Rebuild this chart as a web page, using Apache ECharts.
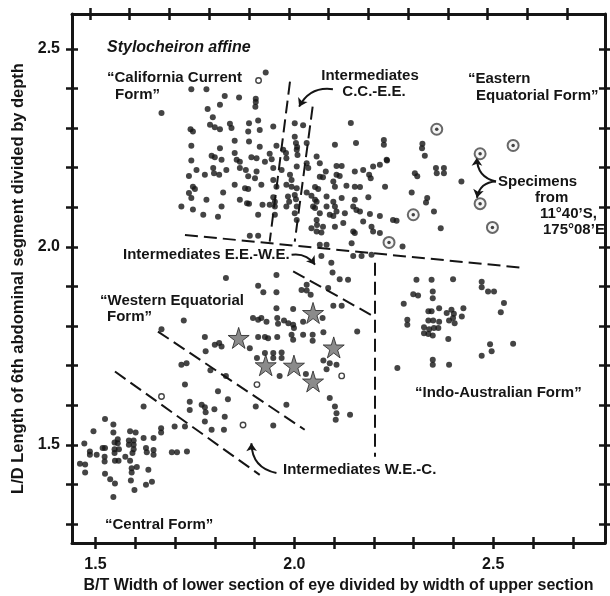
<!DOCTYPE html>
<html>
<head>
<meta charset="utf-8">
<script src="https://cdn.jsdelivr.net/npm/echarts@6/dist/echarts.min.js"></script>
<style>
html, body { margin: 0; background: #fff; }
#chart { width: 610px; height: 596px; }
</style>
</head>
<body>
<div id="chart"></div>
<script>
// tick values
const xTicks = [1.5, 1.6, 1.7, 1.8, 1.9, 2.0, 2.1, 2.2, 2.3, 2.4, 2.5, 2.6, 2.7];
const yTicks = [1.3, 1.4, 1.5, 1.6, 1.7, 1.8, 1.9, 2.0, 2.1, 2.2, 2.3, 2.4, 2.5];
const xLabels = [1.5, 2.0, 2.5];
const yLabels = [1.5, 2.0, 2.5];

// "California Current Form" + C.C.-E.E. intermediates
const ccForm = [
  [1.928,2.440],[1.741,2.398],[1.779,2.398],[1.825,2.381],[1.861,2.377],[1.903,2.374],[1.903,2.366],[1.813,2.359],
  [1.902,2.354],[1.782,2.348],[1.666,2.338],[1.795,2.327],[1.788,2.308],[1.800,2.302],[1.813,2.297],[1.838,2.311],
  [1.842,2.300],[1.886,2.312],[1.909,2.319],[1.947,2.304],[2.001,2.312],[2.022,2.307],[2.142,2.313],[1.739,2.297],
  [1.745,2.291],[1.884,2.291],[1.913,2.295],[2.001,2.278],[1.850,2.268],[1.886,2.266],[1.913,2.253],[1.955,2.255],
  [1.741,2.255],[1.813,2.249],[2.004,2.262],[2.007,2.252],[2.031,2.262],[2.102,2.258],[2.155,2.262],[2.225,2.270],
  [2.225,2.258],[1.972,2.245],[1.792,2.230],[1.800,2.226],[1.850,2.237],[1.855,2.220],[1.863,2.215],[1.892,2.226],
  [1.905,2.224],[1.938,2.235],[1.943,2.221],[1.979,2.237],[1.980,2.224],[2.006,2.245],[2.008,2.232],[2.056,2.228],
  [1.741,2.218],[1.817,2.220],[1.926,2.215],[2.064,2.211],[2.106,2.204],[2.119,2.204],[2.198,2.203],[2.215,2.207],
  [2.232,2.220],[1.754,2.194],[1.796,2.199],[1.798,2.186],[1.829,2.194],[1.863,2.199],[1.878,2.194],[1.905,2.190],
  [1.947,2.199],[1.968,2.194],[2.006,2.203],[2.031,2.211],[2.035,2.199],[2.079,2.190],[2.152,2.190],[2.173,2.194],
  [2.188,2.182],[2.192,2.173],[1.735,2.179],[1.775,2.182],[1.811,2.182],[1.884,2.178],[1.901,2.173],[1.947,2.169],
  [1.989,2.182],[1.993,2.169],[2.064,2.177],[2.072,2.176],[2.106,2.182],[2.114,2.179],[1.850,2.157],[1.876,2.148],
  [1.884,2.146],[1.917,2.157],[1.955,2.152],[1.980,2.157],[1.993,2.152],[2.006,2.148],[2.031,2.137],[2.052,2.151],
  [2.060,2.146],[2.098,2.165],[2.102,2.152],[2.131,2.154],[2.152,2.152],[2.165,2.151],[2.228,2.152],[1.745,2.152],
  [1.750,2.146],[1.735,2.136],[1.741,2.123],[1.821,2.137],[1.863,2.119],[1.881,2.110],[1.886,2.109],[1.920,2.106],
  [1.947,2.125],[1.951,2.114],[1.984,2.127],[1.987,2.114],[2.001,2.131],[2.004,2.120],[2.043,2.129],[2.052,2.119],
  [2.056,2.114],[2.081,2.127],[2.098,2.114],[2.119,2.123],[2.152,2.119],[2.186,2.125],[1.779,2.119],[1.716,2.102],
  [1.817,2.102],[1.745,2.094],[1.771,2.081],[1.808,2.076],[1.909,2.081],[1.938,2.106],[1.951,2.102],[1.980,2.102],
  [2.006,2.102],[2.001,2.085],[2.047,2.102],[2.052,2.098],[2.081,2.102],[2.102,2.102],[2.106,2.089],[2.148,2.102],
  [2.156,2.093],[2.165,2.089],[2.190,2.083],[2.215,2.078],[1.951,2.081],[2.006,2.068],[2.064,2.085],[2.089,2.081],
  [2.098,2.078],[2.127,2.085],[2.056,2.068],[2.057,2.055],[2.043,2.047],[2.072,2.051],[2.102,2.051],[2.123,2.060],
  [2.173,2.064],[2.194,2.051],[2.248,2.068],[2.056,2.039],[2.068,2.036],[2.148,2.039],[2.152,2.035],[2.198,2.039],
  [2.215,2.035],[1.888,2.028],[1.909,2.028],[2.064,2.005],[2.081,2.005],[2.144,2.009]
];

// "Eastern Equatorial Form"
const eeForm = [
  [2.322,2.260],[2.321,2.249],[2.328,2.230],[2.303,2.186],[2.309,2.178],[2.356,2.199],[2.376,2.199],[2.358,2.186],
  [2.376,2.186],[2.420,2.165],[2.233,2.218],[2.295,2.137],[2.334,2.123],[2.331,2.112],[2.351,2.089],[2.368,2.047],
  [2.257,2.066],[2.272,2.001]
];

// specimens from 11°40'S, 175°08'E (ringed)
const specimens = [
  [2.358,2.297],[2.550,2.256],[2.467,2.235],[2.467,2.109],[2.498,2.049],[2.299,2.081],[2.238,2.011]
];

// "Indo-Australian Form"
const iaForm = [
  [2.307,1.917],[2.345,1.917],[2.399,1.918],[2.471,1.912],[2.471,1.898],[2.487,1.887],[2.502,1.887],[2.299,1.880],
  [2.311,1.877],[2.348,1.887],[2.348,1.870],[2.275,1.856],[2.527,1.858],[2.519,1.835],[2.337,1.837],[2.345,1.837],
  [2.364,1.845],[2.383,1.833],[2.395,1.841],[2.401,1.831],[2.399,1.820],[2.425,1.845],[2.421,1.824],[2.284,1.816],
  [2.284,1.803],[2.337,1.814],[2.349,1.814],[2.364,1.811],[2.389,1.814],[2.403,1.807],[2.326,1.797],[2.339,1.792],
  [2.351,1.795],[2.362,1.795],[2.326,1.782],[2.337,1.780],[2.348,1.776],[2.387,1.767],[2.492,1.754],[2.496,1.736],
  [2.550,1.755],[2.471,1.725],[2.348,1.715],[2.348,1.702],[2.389,1.702],[2.259,1.694]
];

// "Western Equatorial Form" + intermediates
const weForm = [
  [2.068,1.977],[2.093,1.960],[2.148,1.977],[2.169,1.977],[2.194,1.980],[2.096,1.935],[2.114,1.918],[2.135,1.917],
  [1.828,1.921],[1.955,1.929],[1.909,1.902],[1.922,1.885],[1.955,1.885],[2.031,1.904],[2.018,1.891],[2.031,1.890],
  [2.041,1.879],[2.085,1.896],[1.997,1.843],[1.955,1.845],[2.098,1.851],[2.119,1.851],[1.896,1.820],[1.909,1.816],
  [1.917,1.820],[1.930,1.811],[1.957,1.820],[1.959,1.806],[1.974,1.814],[1.985,1.807],[1.997,1.803],[2.022,1.811],
  [2.071,1.820],[1.722,1.814],[1.999,1.795],[1.993,1.778],[1.997,1.765],[1.666,1.792],[1.775,1.772],[1.800,1.753],
  [1.811,1.757],[1.817,1.748],[1.909,1.772],[1.926,1.772],[1.934,1.769],[1.957,1.772],[2.022,1.778],[2.046,1.778],
  [2.046,1.763],[2.073,1.784],[2.158,1.786],[1.888,1.744],[1.777,1.736],[1.906,1.719],[1.926,1.732],[1.947,1.732],
  [1.968,1.733],[1.947,1.719],[1.968,1.719],[2.073,1.713],[2.089,1.706],[2.106,1.702],[1.716,1.702],[1.729,1.706],
  [1.789,1.688],[1.963,1.674],[2.029,1.679],[1.828,1.674],[2.081,1.691],[1.725,1.652],[1.808,1.635],[1.737,1.609],
  [1.737,1.588],[1.767,1.601],[1.775,1.595],[1.833,1.615],[1.621,1.597],[1.825,1.571],[1.903,1.597],[1.980,1.601],
  [2.102,1.597],[2.106,1.580],[2.140,1.576],[2.089,1.618],[2.104,1.563],[1.799,1.590],[1.777,1.582],[1.775,1.559],
  [1.792,1.538],[1.823,1.538],[1.947,1.549],[1.725,1.546],[1.699,1.546],[1.665,1.542],[1.665,1.531]
];

// "Central Form"
const cForm = [
  [1.524,1.565],[1.545,1.551],[1.545,1.531],[1.495,1.534],[1.587,1.534],[1.601,1.531],[1.556,1.514],[1.556,1.504],
  [1.548,1.506],[1.584,1.511],[1.596,1.511],[1.584,1.500],[1.596,1.500],[1.621,1.517],[1.646,1.517],[1.472,1.503],
  [1.518,1.492],[1.524,1.492],[1.486,1.483],[1.486,1.475],[1.503,1.475],[1.548,1.489],[1.548,1.479],[1.559,1.489],
  [1.596,1.489],[1.593,1.479],[1.627,1.492],[1.629,1.481],[1.646,1.487],[1.646,1.475],[1.523,1.470],[1.523,1.458],
  [1.549,1.460],[1.558,1.460],[1.575,1.470],[1.587,1.460],[1.692,1.481],[1.705,1.481],[1.730,1.483],[1.461,1.452],
  [1.474,1.450],[1.474,1.430],[1.591,1.441],[1.604,1.444],[1.591,1.430],[1.633,1.437],[1.524,1.427],[1.537,1.413],
  [1.549,1.402],[1.589,1.410],[1.642,1.407],[1.627,1.399],[1.598,1.386],[1.545,1.368]
];

// small open circles
const openDots = [[1.910,2.420],[2.119,1.674],[1.906,1.652],[1.666,1.622],[1.871,1.550]];

// stars
const stars = [[2.047,1.833],[1.860,1.770],[2.099,1.746],[1.928,1.701],[1.999,1.700],[2.047,1.660]];

// dashed boundaries [[x1,y1],[x2,y2]]
const boundaries = [
  [[1.725,2.030],[2.575,1.947]],
  [[1.989,2.417],[1.938,2.013]],
  [[2.046,2.354],[2.001,2.013]],
  [[1.997,1.938],[2.202,1.823]],
  [[2.202,1.960],[2.202,1.470]],
  [[1.657,1.786],[2.026,1.538]],
  [[1.549,1.685],[1.913,1.424]]
];

// curved arrows [from, to]
const arrows = [
  [[2.097,2.398],[2.012,2.354]],
  [[1.993,1.980],[2.052,1.955]],
  [[1.955,1.429],[1.892,1.504]],
  [[2.507,2.165],[2.459,2.225]],
  [[2.507,2.165],[2.459,2.124]]
];
const arrowCurve = [-0.35, 0.3, 0.4, 0.4, -0.4];

const X_MIN = 1.441, X_MAX = 2.781, Y_MIN = 1.252, Y_MAX = 2.588;
const TOP_SHIFT = 0.014; // top ticks sit a little left in the original
const INK = '#151515';
const FONT = '"Liberation Sans", Arial, sans-serif';

function makeAxis(isX, pos, inside, drawLine, labels, shift) {
  return {
    type: 'value',
    position: pos,
    min: (isX ? X_MIN : Y_MIN) + shift,
    max: (isX ? X_MAX : Y_MAX) + shift,
    splitLine: { show: false },
    axisLine: { show: drawLine, onZero: false, lineStyle: { color: INK, width: 3 } },
    axisTick: {
      show: true, inside: inside, length: 6,
      customValues: isX ? xTicks : yTicks,
      lineStyle: { color: INK, width: 2.5 }
    },
    axisLabel: {
      show: labels,
      customValues: isX ? xLabels : yLabels,
      formatter: v => Number(v).toFixed(1),
      color: INK, fontSize: 16, fontWeight: 'bold', fontFamily: FONT,
      margin: isX ? 14 : 12
    }
  };
}

const xMain = makeAxis(true, 'bottom', true, true, true, 0);
xMain.name = 'B/T Width of lower section of eye divided by width of upper section';
xMain.nameLocation = 'middle';
xMain.nameGap = 30;
xMain.nameTextStyle = { color: INK, fontSize: 16, fontWeight: 'bold', fontFamily: FONT };

const yMain = makeAxis(false, 'left', true, true, true, 0);
yMain.name = 'L/D Length of 6th abdominal segment divided by depth';
yMain.nameLocation = 'middle';
yMain.nameGap = 36;
yMain.nameTextStyle = { color: INK, fontSize: 16.5, fontWeight: 'bold', fontFamily: FONT };

const txt = (x, y, text, opts) => Object.assign({
  type: 'text', x: x, y: y, silent: true,
  style: { text: text, fill: INK, font: 'bold 15px ' + FONT, textVerticalAlign: 'middle', textAlign: 'left' }
}, opts || {});

const chart = echarts.init(document.getElementById('chart'), null, { renderer: 'canvas' });
chart.setOption({
  animation: false,
  backgroundColor: '#fff',
  grid: { left: 72, right: 5, top: 14, bottom: 53, outerBoundsMode: 'none', containLabel: false },
  xAxis: [
    xMain,
    makeAxis(true, 'bottom', false, false, false, 0),
    makeAxis(true, 'top', true, true, false, TOP_SHIFT),
    makeAxis(true, 'top', false, false, false, TOP_SHIFT)
  ],
  yAxis: [
    yMain,
    makeAxis(false, 'left', false, false, false, 0),
    makeAxis(false, 'right', true, true, false, 0),
    makeAxis(false, 'right', false, false, false, 0)
  ],
  series: [
    {
      type: 'lines', coordinateSystem: 'cartesian2d', z: 1,
      lineStyle: { color: INK, width: 2, type: [13, 6], opacity: 1 },
      data: boundaries.map(s => ({ coords: s }))
    },
    {
      type: 'lines', coordinateSystem: 'cartesian2d', z: 1,
      symbol: ['none', 'arrow'], symbolSize: 8,
      lineStyle: { color: INK, width: 2, opacity: 1 },
      data: arrows.map((s, i) => ({ coords: s, lineStyle: { curveness: arrowCurve[i] } }))
    },
    {
      type: 'scatter', symbol: 'circle', symbolSize: 6,
      itemStyle: { color: INK },
      data: [].concat(ccForm, eeForm, iaForm, weForm, cForm)
    },
    {
      type: 'scatter', symbol: 'circle', symbolSize: 5.5,
      itemStyle: { color: '#fff', borderColor: INK, borderWidth: 1.4 },
      data: openDots
    },
    {
      type: 'scatter', symbol: 'circle', symbolSize: 11,
      itemStyle: { color: '#f2f2f2', borderColor: '#444', borderWidth: 2 },
      data: specimens
    },
    {
      type: 'scatter', symbol: 'circle', symbolSize: 3.5,
      itemStyle: { color: INK },
      data: specimens
    },
    {
      type: 'scatter', symbolSize: 21, z: 3,
      symbol: 'path://M50,0 L61,35 L98,35 L68,57 L79,91 L50,70 L21,91 L32,57 L2,35 L39,35 Z',
      itemStyle: { color: '#6e6e6e', borderColor: '#222', borderWidth: 1 },
      data: stars
    }
  ],
  graphic: [
    txt(107, 48, 'Stylocheiron affine', { style: { text: 'Stylocheiron affine', fill: INK, font: 'italic bold 16px ' + FONT, textVerticalAlign: 'middle' } }),
    txt(107, 78, '\u201cCalifornia Current'),
    txt(115, 95, 'Form\u201d'),
    txt(370, 76, 'Intermediates', { style: { text: 'Intermediates', fill: INK, font: 'bold 15px ' + FONT, textVerticalAlign: 'middle', textAlign: 'center' } }),
    txt(374, 92, 'C.C.-E.E.', { style: { text: 'C.C.-E.E.', fill: INK, font: 'bold 15px ' + FONT, textVerticalAlign: 'middle', textAlign: 'center' } }),
    txt(468, 79, '\u201cEastern'),
    txt(476, 96, 'Equatorial Form\u201d'),
    txt(498, 182, 'Specimens'),
    txt(535, 198, 'from'),
    txt(540, 214, '11\u00b040\u2019S,'),
    txt(543, 230, '175\u00b008\u2019E'),
    txt(123, 255, 'Intermediates E.E.-W.E.'),
    txt(100, 301, '\u201cWestern Equatorial'),
    txt(107, 317, 'Form\u201d'),
    txt(415, 393, '\u201cIndo-Australian Form\u201d'),
    txt(283, 470, 'Intermediates W.E.-C.'),
    txt(105, 525, '\u201cCentral Form\u201d')
  ]
});
</script>
</body>
</html>
